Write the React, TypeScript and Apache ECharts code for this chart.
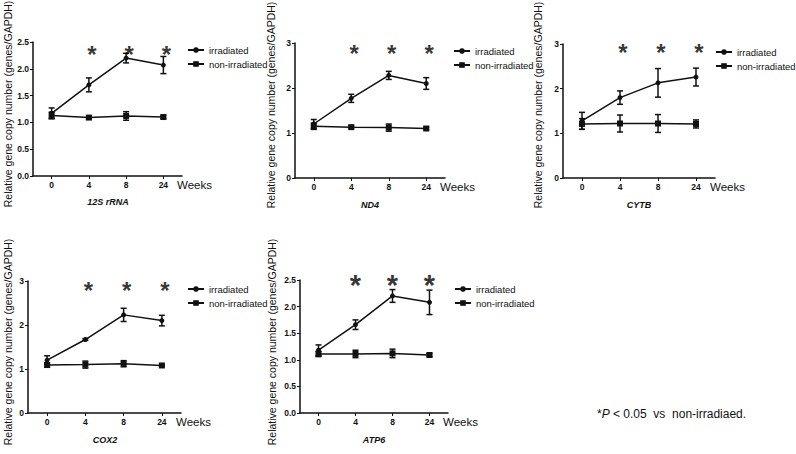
import React, { useEffect, useRef } from "react";
import * as echarts from "echarts";

// ---------- data ----------
const categories = ["0", "4", "8", "24"];
const panelTitles = ["12S rRNA", "ND4", "CYTB", "COX2", "ATP6"];
const legendNames = ["irradiated", "non-irradiated"];
const xAxisName = "Weeks";
const yAxisTitle = "Relative gene copy number (genes/GAPDH)";
const footnoteTail = " < 0.05  vs  non-irradiaed.";

const irr12S = [1.17, 1.7, 2.2, 2.07];
const irr12SErr = [0.1, 0.13, 0.09, 0.16];
const non12S = [1.13, 1.09, 1.12, 1.1];
const non12SErr = [0.06, 0.03, 0.08, 0.03];

const irrND4 = [1.2, 1.77, 2.28, 2.1];
const irrND4Err = [0.1, 0.09, 0.09, 0.13];
const nonND4 = [1.15, 1.13, 1.12, 1.1];
const nonND4Err = [0.07, 0.03, 0.08, 0.03];

const irrCYTB = [1.28, 1.8, 2.13, 2.26];
const irrCYTBErr = [0.19, 0.15, 0.32, 0.2];
const nonCYTB = [1.21, 1.22, 1.22, 1.21];
const nonCYTBErr = [0.12, 0.19, 0.2, 0.09];

const irrCOX2 = [1.2, 1.67, 2.23, 2.1];
const irrCOX2Err = [0.1, 0.02, 0.15, 0.12];
const nonCOX2 = [1.09, 1.1, 1.12, 1.08];
const nonCOX2Err = [0.05, 0.08, 0.07, 0.02];

const irrATP6 = [1.18, 1.66, 2.2, 2.08];
const irrATP6Err = [0.1, 0.09, 0.12, 0.23];
const nonATP6 = [1.11, 1.11, 1.12, 1.09];
const nonATP6Err = [0.05, 0.07, 0.08, 0.03];

const yMax = [2.5, 3, 3, 3, 2.5];
const yInterval = [0.5, 1, 1, 1, 0.5];
const starCategories = ["4", "8", "24"];
const starLevel = [2.37, 2.91, 2.95, 2.93, 2.53];

const panelSeries = [
  { irr: irr12S, irrErr: irr12SErr, non: non12S, nonErr: non12SErr },
  { irr: irrND4, irrErr: irrND4Err, non: nonND4, nonErr: nonND4Err },
  { irr: irrCYTB, irrErr: irrCYTBErr, non: nonCYTB, nonErr: nonCYTBErr },
  { irr: irrCOX2, irrErr: irrCOX2Err, non: nonCOX2, nonErr: nonCOX2Err },
  { irr: irrATP6, irrErr: irrATP6Err, non: nonATP6, nonErr: nonATP6Err },
];

// ---------- layout / style ----------
const SANS = '"Liberation Sans", Arial, sans-serif';
const BLACK = "#111";

const layout = [
  { grid: { left: 33, top: 42, width: 149, height: 134 }, legend: { left: 182, top: 40 }, yTitle: [8, 104], sub: [108, 202], star: { size: 24, dx: 3 } },
  { grid: { left: 295, top: 43, width: 150, height: 135 }, legend: { left: 448, top: 41 }, yTitle: [271, 105], sub: [370, 205], star: { size: 24, dx: 3 } },
  { grid: { left: 563, top: 44, width: 152, height: 134 }, legend: { left: 710, top: 42 }, yTitle: [538, 105], sub: [639, 205], star: { size: 24, dx: 3 } },
  { grid: { left: 28, top: 281, width: 153, height: 132 }, legend: { left: 182, top: 279 }, yTitle: [8, 342], sub: [105, 440], star: { size: 24, dx: 3 } },
  { grid: { left: 300, top: 280, width: 148, height: 133 }, legend: { left: 449, top: 279 }, yTitle: [272, 342], sub: [374, 440], star: { size: 29, dx: 0 } },
];

function errorBarSeries(name: string, idx: number, vals: number[], errs: number[]) {
  return {
    type: "custom",
    name,
    xAxisIndex: idx,
    yAxisIndex: idx,
    silent: true,
    z: 3,
    encode: { x: 0, y: 1 },
    data: vals.map((v, i) => [i, v, errs[i]]),
    renderItem: (params: any, api: any) => {
      const x = api.value(0);
      const y = api.value(1);
      const e = api.value(2);
      const top = api.coord([x, y + e]);
      const bot = api.coord([x, y - e]);
      const hw = 3;
      const st = { stroke: BLACK, lineWidth: 1.5 };
      return {
        type: "group",
        children: [
          { type: "line", shape: { x1: top[0], y1: top[1], x2: bot[0], y2: bot[1] }, style: st },
          { type: "line", shape: { x1: top[0] - hw, y1: top[1], x2: top[0] + hw, y2: top[1] }, style: st },
          { type: "line", shape: { x1: bot[0] - hw, y1: bot[1], x2: bot[0] + hw, y2: bot[1] }, style: st },
        ],
      };
    },
  };
}

function buildOption() {
  const grids: any[] = [];
  const xAxes: any[] = [];
  const yAxes: any[] = [];
  const legends: any[] = [];
  const series: any[] = [];
  const graphics: any[] = [];

  panelSeries.forEach((p, i) => {
    const L = layout[i];
    grids.push({ ...L.grid, containLabel: false });
    xAxes.push({
      type: "category",
      gridIndex: i,
      data: categories,
      boundaryGap: true,
      name: xAxisName,
      nameLocation: "end",
      nameGap: -5,
      nameTextStyle: { color: BLACK, fontFamily: SANS, fontSize: 11.5, verticalAlign: "top", padding: [3, 0, 0, 0] },
      axisLine: { lineStyle: { color: BLACK, width: 1.5 } },
      axisTick: { show: true, alignWithLabel: true, length: 3, lineStyle: { color: BLACK, width: 1 } },
      axisLabel: { color: BLACK, fontFamily: SANS, fontWeight: "bold", fontSize: 8.5, margin: 4 },
      splitLine: { show: false },
    });
    const dec = yInterval[i] < 1 ? 1 : 0;
    yAxes.push({
      type: "value",
      gridIndex: i,
      min: 0,
      max: yMax[i],
      interval: yInterval[i],
      axisLine: { show: true, lineStyle: { color: BLACK, width: 1.5 } },
      axisTick: { show: true, length: 3, lineStyle: { color: BLACK, width: 1 } },
      axisLabel: {
        color: BLACK,
        fontFamily: SANS,
        fontWeight: "bold",
        fontSize: 8.5,
        margin: 4,
        formatter: (v: number) => v.toFixed(dec),
      },
      splitLine: { show: false },
    });
    legends.push({
      data: legendNames,
      orient: "vertical",
      left: L.legend.left,
      top: L.legend.top,
      itemWidth: 16,
      itemHeight: 7,
      itemGap: 4,
      selectedMode: false,
      textStyle: { color: BLACK, fontFamily: SANS, fontSize: 9.5 },
    });
    series.push({
      type: "line",
      name: legendNames[0],
      xAxisIndex: i,
      yAxisIndex: i,
      data: p.irr,
      symbol: "circle",
      symbolSize: 5,
      lineStyle: { color: BLACK, width: 1.5 },
      itemStyle: { color: BLACK },
      z: 4,
    });
    series.push({
      type: "line",
      name: legendNames[1],
      xAxisIndex: i,
      yAxisIndex: i,
      data: p.non,
      symbol: "rect",
      symbolSize: 6,
      lineStyle: { color: BLACK, width: 1.5 },
      itemStyle: { color: BLACK },
      z: 4,
    });
    series.push(errorBarSeries("irrErr" + i, i, p.irr, p.irrErr));
    series.push(errorBarSeries("nonErr" + i, i, p.non, p.nonErr));
    series.push({
      type: "scatter",
      name: "sig" + i,
      xAxisIndex: i,
      yAxisIndex: i,
      clip: false,
      silent: true,
      symbolSize: 1,
      itemStyle: { color: "rgba(0,0,0,0)" },
      z: 5,
      data: starCategories.map((c) => [c, starLevel[i]]),
      label: {
        show: true,
        position: "inside",
        formatter: "*",
        color: "#000",
        fontFamily: SANS,
        fontWeight: "bold",
        fontSize: L.star.size,
        offset: [L.star.dx, Math.round(L.star.size * 0.24)],
      },
    });
    graphics.push({
      type: "text",
      x: L.yTitle[0],
      y: L.yTitle[1],
      rotation: Math.PI / 2,
      style: { text: yAxisTitle, fill: BLACK, font: `10.5px ${SANS}`, align: "center", verticalAlign: "middle" },
    });
    graphics.push({
      type: "text",
      x: L.sub[0],
      y: L.sub[1],
      style: {
        text: panelTitles[i],
        fill: BLACK,
        font: `italic bold 9px ${SANS}`,
        align: "center",
        verticalAlign: "middle",
      },
    });
  });

  graphics.push({
    type: "text",
    x: 597,
    y: 414,
    style: {
      text: "*{i|P}" + footnoteTail,
      fill: BLACK,
      font: `12px ${SANS}`,
      align: "left",
      verticalAlign: "middle",
      rich: { i: { fontStyle: "italic", fontSize: 12, fontFamily: SANS, fill: BLACK } },
    },
  });

  return {
    animation: false,
    backgroundColor: "#fff",
    grid: grids,
    xAxis: xAxes,
    yAxis: yAxes,
    legend: legends,
    series,
    graphic: graphics,
  };
}

export default function App() {
  const ref = useRef<HTMLDivElement>(null);
  useEffect(() => {
    if (!ref.current) return;
    const chart = echarts.init(ref.current, undefined, { renderer: "svg" });
    chart.setOption(buildOption() as any);
    return () => chart.dispose();
  }, []);
  return (
    <div
      ref={ref}
      style={{ position: "absolute", left: 0, top: 0, width: 796, height: 454, background: "#fff" }}
    />
  );
}
